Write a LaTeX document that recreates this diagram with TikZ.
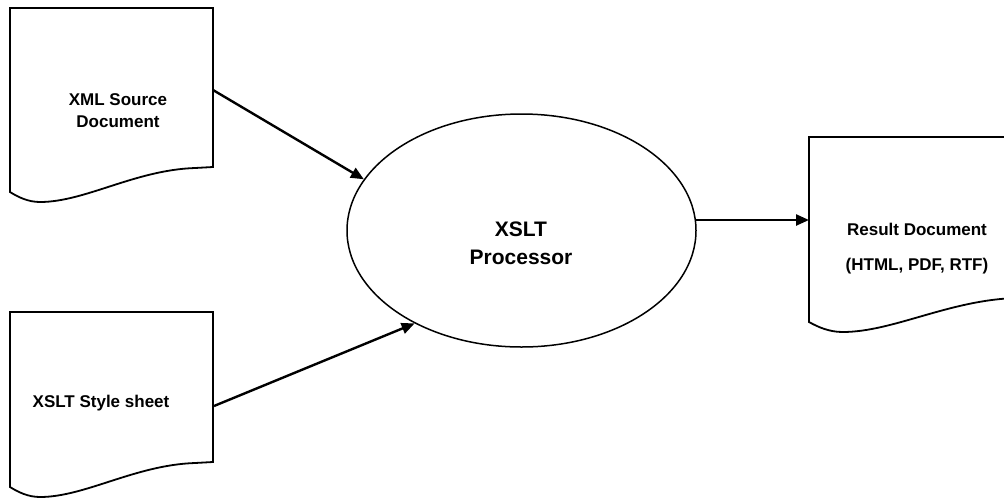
\documentclass[tikz,border=0pt]{standalone}
\usepackage{fontspec}
\setmainfont{Liberation Sans}
\usetikzlibrary{arrows.meta,shapes.geometric}
\tikzset{
	doc/.style={line width=1.8pt, line join=miter},
	flow/.style={line width=2.4pt, -{Triangle[length=13pt,width=11pt]}},
	lbl/.style={font=\bfseries\fontsize{17}{22}\selectfont, align=center, inner sep=0pt},
}
\def\docpage(#1,#2)(#3:#4){\draw[doc, shift={(#1,#2)}, xscale=#3] (0,0) -- (203,0) -- (203,#4) -- (185,#4+1) .. controls (125,#4+3) and (75,#4+35) .. (30,#4+35) .. controls (18,#4+35) and (8,#4+30) .. (0,#4+25) -- cycle;}

\begin{document}
\begin{tikzpicture}[x=1pt, y=-1pt]
			%%%%% START %%%%%
			\useasboundingbox (0,0) rectangle (1004,499);
			
			\docpage(10,8)(1:159);
			\docpage(10,312)(1:150);
			\docpage(809,137)(1.12:160);
			
			\node[lbl] (xml) at (118,111) {XML Source\\Document};
			\node[lbl, anchor=base] (xsl) at (101,407) {XSLT Style sheet};
			\node[lbl] (result) at (917,249) {Result Document\\[13pt](HTML, PDF, RTF)};
			
			\node[ellipse, draw, line width=1.5pt, minimum width=349pt, minimum height=233pt, inner sep=0pt] (proc) at (521.5,230.5) {};
			\node[lbl, font=\bfseries\fontsize{21}{28}\selectfont] (proctext) at (521,243.5) {XSLT\\Processor};
			
			\coordinate (xmlout) at (213,90);
			\coordinate (xslout) at (214,406);
			\coordinate (resultin) at (809,220);
			
			\draw[flow] (xmlout) -- (proc.162.9);
			\draw[flow] (xslout) -- (proc.221.8);
			\draw[flow] (resultin -| proc.3.5) -- (resultin);
			%%%%% END %%%%%
\end{tikzpicture}
\end{document}
